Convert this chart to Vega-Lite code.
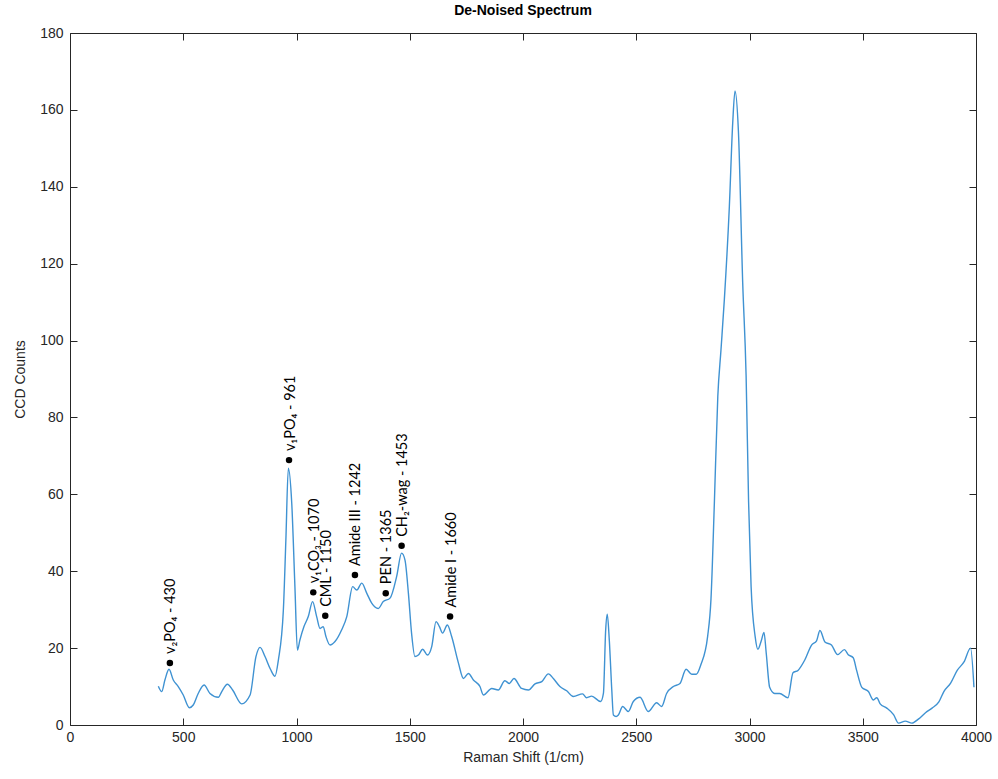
{
  "$schema": "https://vega.github.io/schema/vega-lite/v6.json",
  "autosize": "none",
  "width": 906,
  "height": 692,
  "padding": {"left": 70, "top": 33, "right": 22, "bottom": 54},
  "background": "white",
  "title": {"text": "De-Noised Spectrum", "fontSize": 14, "font": "Liberation Sans Narrow, Liberation Sans", "fontWeight": "bold", "color": "#000000", "offset": 8},
  "config": {
    "view": {"stroke": null},
    "axis": {"grid": false, "domainColor": "#262626", "tickColor": "#262626", "labelColor": "#262626", "titleColor": "#262626", "labelFont": "Liberation Sans", "titleFont": "Liberation Sans", "labelFontSize": 14, "titleFontSize": 14, "titleFontWeight": "normal", "tickSize": -7, "domainWidth": 1, "tickWidth": 1}
  },
  "datasets": {
    "spectrum": [
      {"shift": 390, "counts": 10.1}, {"shift": 405, "counts": 8.7}, {"shift": 419, "counts": 11.7}, {"shift": 437, "counts": 14.5},
      {"shift": 456, "counts": 11.7}, {"shift": 478, "counts": 10.0}, {"shift": 500, "counts": 7.8}, {"shift": 527, "counts": 4.5},
      {"shift": 544, "counts": 5.2}, {"shift": 566, "counts": 8.2}, {"shift": 592, "counts": 10.4}, {"shift": 618, "counts": 8.2},
      {"shift": 655, "counts": 7.2}, {"shift": 670, "counts": 8.7}, {"shift": 695, "counts": 10.6}, {"shift": 718, "counts": 9.1},
      {"shift": 758, "counts": 5.5}, {"shift": 795, "counts": 7.8}, {"shift": 821, "counts": 17.8}, {"shift": 839, "counts": 20.2},
      {"shift": 861, "counts": 17.8}, {"shift": 885, "counts": 14.5}, {"shift": 905, "counts": 12.7}, {"shift": 920, "counts": 16.9},
      {"shift": 942, "counts": 29.9}, {"shift": 953, "counts": 48}, {"shift": 964, "counts": 66.8}, {"shift": 979, "counts": 57.7},
      {"shift": 993, "counts": 36}, {"shift": 1004, "counts": 19.5}, {"shift": 1015, "counts": 22.1}, {"shift": 1033, "counts": 25.6},
      {"shift": 1052, "counts": 28.2}, {"shift": 1071, "counts": 32.1}, {"shift": 1089, "counts": 28.2}, {"shift": 1104, "counts": 25.1},
      {"shift": 1118, "counts": 25.6}, {"shift": 1130, "counts": 23}, {"shift": 1148, "counts": 20.8}, {"shift": 1170, "counts": 21.7},
      {"shift": 1199, "counts": 24.7}, {"shift": 1222, "counts": 28.2}, {"shift": 1248, "counts": 36}, {"shift": 1266, "counts": 35.1},
      {"shift": 1288, "counts": 36.9}, {"shift": 1310, "counts": 34.3}, {"shift": 1332, "counts": 31.7}, {"shift": 1361, "counts": 30.3},
      {"shift": 1383, "counts": 32.1}, {"shift": 1413, "counts": 33}, {"shift": 1442, "counts": 38.6}, {"shift": 1464, "counts": 44.7},
      {"shift": 1479, "counts": 42.9}, {"shift": 1494, "counts": 34.3}, {"shift": 1508, "counts": 23.9}, {"shift": 1523, "counts": 17.8},
      {"shift": 1538, "counts": 18.2}, {"shift": 1557, "counts": 19.7}, {"shift": 1578, "counts": 18.2}, {"shift": 1597, "counts": 20.4},
      {"shift": 1616, "counts": 26.9}, {"shift": 1631, "counts": 25.6}, {"shift": 1645, "counts": 23.9}, {"shift": 1666, "counts": 26},
      {"shift": 1685, "counts": 23}, {"shift": 1715, "counts": 16.1}, {"shift": 1737, "counts": 12.1}, {"shift": 1759, "counts": 13.4},
      {"shift": 1781, "counts": 11.7}, {"shift": 1810, "counts": 10}, {"shift": 1825, "counts": 7.8}, {"shift": 1862, "counts": 9.5},
      {"shift": 1891, "counts": 9.1}, {"shift": 1920, "counts": 11.5}, {"shift": 1940, "counts": 10.8}, {"shift": 1960, "counts": 12.1},
      {"shift": 1994, "counts": 9.5}, {"shift": 2024, "counts": 9.1}, {"shift": 2053, "counts": 10.7}, {"shift": 2083, "counts": 11.3},
      {"shift": 2112, "counts": 13.3}, {"shift": 2134, "counts": 12.1}, {"shift": 2163, "counts": 10}, {"shift": 2193, "counts": 8.9},
      {"shift": 2222, "counts": 7.4}, {"shift": 2263, "counts": 8.1}, {"shift": 2281, "counts": 7.1}, {"shift": 2303, "counts": 7.5},
      {"shift": 2343, "counts": 6.1}, {"shift": 2355, "counts": 8.2}, {"shift": 2365, "counts": 24.7}, {"shift": 2372, "counts": 28.8},
      {"shift": 2381, "counts": 22.1}, {"shift": 2392, "counts": 9.1}, {"shift": 2399, "counts": 2.6}, {"shift": 2411, "counts": 2.2},
      {"shift": 2421, "counts": 2.6}, {"shift": 2440, "counts": 4.8}, {"shift": 2465, "counts": 3.5}, {"shift": 2487, "counts": 6.1},
      {"shift": 2517, "counts": 7.2}, {"shift": 2553, "counts": 3.5}, {"shift": 2590, "counts": 5.8}, {"shift": 2612, "counts": 4.8},
      {"shift": 2634, "counts": 8.2}, {"shift": 2664, "counts": 10}, {"shift": 2693, "counts": 10.8}, {"shift": 2720, "counts": 14.5},
      {"shift": 2745, "counts": 13.2}, {"shift": 2765, "counts": 13.2}, {"shift": 2786, "counts": 15.8}, {"shift": 2815, "counts": 23},
      {"shift": 2830, "counts": 32.8}, {"shift": 2845, "counts": 58}, {"shift": 2860, "counts": 85.4}, {"shift": 2874, "counts": 97.5},
      {"shift": 2889, "counts": 110.7}, {"shift": 2911, "counts": 134.8}, {"shift": 2926, "counts": 156.7}, {"shift": 2936, "counts": 164.9},
      {"shift": 2951, "counts": 154.5}, {"shift": 2970, "counts": 115}, {"shift": 2985, "counts": 90.9}, {"shift": 2996, "counts": 58},
      {"shift": 3007, "counts": 36.1}, {"shift": 3025, "counts": 23}, {"shift": 3037, "counts": 19.7}, {"shift": 3052, "counts": 21.9},
      {"shift": 3064, "counts": 24.1}, {"shift": 3074, "counts": 18.6}, {"shift": 3089, "counts": 9.8}, {"shift": 3111, "counts": 8.2},
      {"shift": 3133, "counts": 8.2}, {"shift": 3170, "counts": 7.1}, {"shift": 3192, "counts": 13.6}, {"shift": 3214, "counts": 14.2},
      {"shift": 3244, "counts": 16.9}, {"shift": 3274, "counts": 20.8}, {"shift": 3296, "counts": 21.9}, {"shift": 3311, "counts": 24.6},
      {"shift": 3333, "counts": 21.6}, {"shift": 3362, "counts": 20.8}, {"shift": 3389, "counts": 18.3}, {"shift": 3419, "counts": 19.6},
      {"shift": 3436, "counts": 18.3}, {"shift": 3458, "counts": 17.5}, {"shift": 3473, "counts": 14.2}, {"shift": 3496, "counts": 9.8},
      {"shift": 3525, "counts": 8.7}, {"shift": 3547, "counts": 6.5}, {"shift": 3562, "counts": 7.1}, {"shift": 3577, "counts": 5.5},
      {"shift": 3606, "counts": 4.4}, {"shift": 3636, "counts": 2.7}, {"shift": 3658, "counts": 0.5}, {"shift": 3688, "counts": 1.0},
      {"shift": 3717, "counts": 0.5}, {"shift": 3747, "counts": 1.6}, {"shift": 3777, "counts": 3.2}, {"shift": 3806, "counts": 4.4},
      {"shift": 3836, "counts": 6.0}, {"shift": 3858, "counts": 8.7}, {"shift": 3888, "counts": 10.9}, {"shift": 3917, "counts": 14.2},
      {"shift": 3947, "counts": 16.4}, {"shift": 3976, "counts": 20}, {"shift": 3991, "counts": 9.8}
    ],
    "peaks": [
      {"shift": 441, "counts": 16.1, "label": "v₂PO₄ - 430"},
      {"shift": 967, "counts": 68.9, "label": "v₁PO₄ - 961"},
      {"shift": 1074, "counts": 34.5, "label": "v₁CO₃ - 1070"},
      {"shift": 1127, "counts": 28.4, "label": "CML - 1150"},
      {"shift": 1258, "counts": 39, "label": "Amide III - 1242"},
      {"shift": 1394, "counts": 34.3, "label": "PEN - 1365"},
      {"shift": 1464, "counts": 46.6, "label": "CH₂-wag - 1453"},
      {"shift": 1678, "counts": 28.2, "label": "Amide I - 1660"}
    ]
  },
  "resolve": {"axis": {"x": "independent", "y": "independent"}},
  "layer": [
    {
      "data": {"name": "spectrum"},
      "mark": {"type": "line", "color": "#3f92d2", "strokeWidth": 1.4, "interpolate": "monotone"},
      "encoding": {
        "x": {"field": "shift", "type": "quantitative", "scale": {"domain": [0, 4000], "nice": false},
              "axis": {"orient": "bottom", "title": "Raman Shift (1/cm)", "values": [0, 500, 1000, 1500, 2000, 2500, 3000, 3500, 4000], "format": "d", "labelPadding": 12, "titlePadding": 6, "labelFlush": false}},
        "y": {"field": "counts", "type": "quantitative", "scale": {"domain": [0, 180], "nice": false},
              "axis": {"orient": "left", "title": "CCD Counts", "values": [0, 20, 40, 60, 80, 100, 120, 140, 160, 180], "labelPadding": 14, "titlePadding": 12, "labelFlush": false}}
      }
    },
    {
      "data": {"name": "peaks"},
      "mark": {"type": "point", "filled": true, "color": "#000000", "size": 42, "opacity": 1},
      "encoding": {
        "x": {"field": "shift", "type": "quantitative", "scale": {"domain": [0, 4000], "nice": false},
              "axis": {"orient": "top", "title": null, "labels": false, "values": [0, 500, 1000, 1500, 2000, 2500, 3000, 3500, 4000]}},
        "y": {"field": "counts", "type": "quantitative", "scale": {"domain": [0, 180], "nice": false},
              "axis": {"orient": "right", "title": null, "labels": false, "values": [0, 20, 40, 60, 80, 100, 120, 140, 160, 180]}}
      }
    },
    {
      "data": {"name": "peaks"},
      "mark": {"type": "text", "angle": 270, "align": "left", "baseline": "middle", "dx": 9, "dy": 1.5, "font": "Lato", "fontSize": 14.5, "color": "#000000"},
      "encoding": {
        "x": {"field": "shift", "type": "quantitative", "scale": {"domain": [0, 4000], "nice": false}, "axis": null},
        "y": {"field": "counts", "type": "quantitative", "scale": {"domain": [0, 180], "nice": false}, "axis": null},
        "text": {"field": "label"}
      }
    }
  ]
}
